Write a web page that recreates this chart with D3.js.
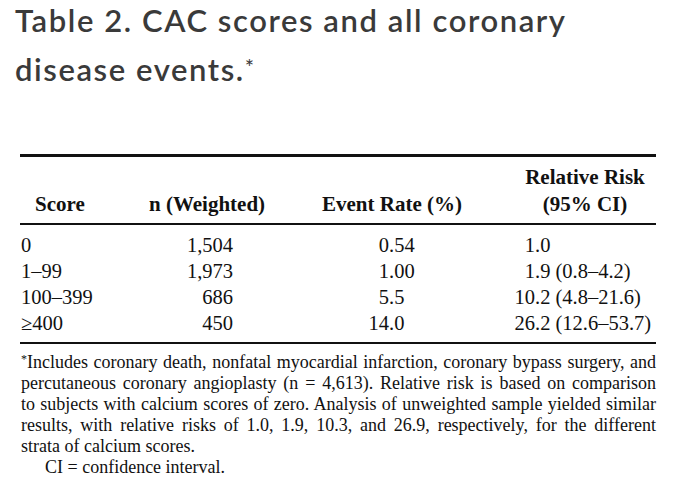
<!DOCTYPE html>
<html>
<head>
<meta charset="utf-8">
<script src="https://cdn.jsdelivr.net/npm/d3@7/dist/d3.min.js"></script>
<style>
  html, body { margin: 0; padding: 0; background: #fff; }
  svg { display: block; }
</style>
</head>
<body>
<svg id="chart" width="674" height="499"></svg>
<script>
// ---- data ----
const titleLines = ["Table 2. CAC scores and all coronary", "disease events.*"];
const headers = ["Score", "n (Weighted)", "Event Rate (%)", "Relative Risk", "(95% CI)"];
const scores = ["0", "1–99", "100–399", "≥400"];
const nWeighted = [1504, 1973, 686, 450];
const eventRate = ["0.54", "1.00", "5.5", "14.0"];
const relRisk = ["1.0", "1.9", "10.2", "26.2"];
const ciLow = [null, "0.8", "4.8", "12.6"];
const ciHigh = [null, "4.2", "21.6", "53.7"];
const footLines = [
  "Includes coronary death, nonfatal myocardial infarction, coronary bypass surgery, and",
  "percutaneous coronary angioplasty (n = 4,613). Relative risk is based on comparison",
  "to subjects with calcium scores of zero. Analysis of unweighted sample yielded similar",
  "results, with relative risks of 1.0, 1.9, 10.3, and 26.9, respectively, for the different",
  "strata of calcium scores.",
  "CI = confidence interval."
];

// ---- layout ----
const svg = d3.select("#chart");
const serif = "'Liberation Serif', 'DejaVu Serif', serif";
const left = 20, right = 656;

// title
const title = svg.append("g");
const titleBase = [32, 81];
titleLines.forEach((t, i) => {
  const tx = title.append("text")
    .attr("x", 15).attr("y", titleBase[i])
    .attr("font-family", "Lato, 'Open Sans', sans-serif")
    .attr("font-weight", 600)
    .attr("font-size", 31)
    .attr("fill", "#3a3a3a");
  if (i === 1) {
    tx.append("tspan").text(t.replace("*", ""));
    tx.append("tspan").attr("font-weight", 400).attr("font-size", 22).attr("dy", -6).text("*");
  } else {
    tx.text(t);
  }
});
// spread first title line to the reference width using letter spacing
{
  const t0 = title.select("text").node();
  const w = t0.getComputedTextLength();
  const n = titleLines[0].length - 1;
  const ls = Math.max(0, (550 - w) / n);
  title.selectAll("text").attr("letter-spacing", ls);
}

// rules
svg.append("rect").attr("x", left).attr("y", 154).attr("width", right - left).attr("height", 3).attr("fill", "#111");
svg.append("rect").attr("x", left).attr("y", 223).attr("width", right - left).attr("height", 2).attr("fill", "#111");
svg.append("rect").attr("x", left).attr("y", 342).attr("width", right - left).attr("height", 2).attr("fill", "#111");

// header
const hdr = svg.append("g").attr("font-family", serif).attr("font-weight", 700).attr("font-size", 21).attr("fill", "#111");
hdr.append("text").attr("x", 35).attr("y", 211).text(headers[0]);
hdr.append("text").attr("x", 149).attr("y", 211).text(headers[1]);
hdr.append("text").attr("x", 322).attr("y", 211).text(headers[2]);
hdr.append("text").attr("x", 585).attr("y", 184).attr("text-anchor", "middle").text(headers[3]);
hdr.append("text").attr("x", 585).attr("y", 211).attr("text-anchor", "middle").text(headers[4]);

// body rows
const y = d3.scalePoint().domain(scores).range([252, 330]);
const fmt = d3.format(",");
const body = svg.append("g").attr("font-family", serif).attr("font-size", 20.5).attr("fill", "#111");
const rows = body.selectAll("g.row").data(scores.map((s, i) => ({
  s, n: nWeighted[i], er: eventRate[i], rr: relRisk[i], lo: ciLow[i], hi: ciHigh[i]
}))).join("g").attr("class", "row").attr("transform", d => `translate(0,${y(d.s)})`);

rows.append("text").attr("x", 21).text(d => d.s);
rows.append("text").attr("x", 233).attr("text-anchor", "end").text(d => fmt(d.n));
const decER = 389, decRR = 535;
rows.append("text").attr("x", decER).attr("text-anchor", "end").text(d => d.er.split(".")[0]);
rows.append("text").attr("x", decER).text(d => "." + d.er.split(".")[1]);
rows.append("text").attr("x", decRR).attr("text-anchor", "end").text(d => d.rr.split(".")[0]);
rows.append("text").attr("x", decRR)
  .text(d => "." + d.rr.split(".")[1] + (d.lo ? ` (${d.lo}–${d.hi})` : ""));

// footnote
const foot = svg.append("g").attr("font-family", serif).attr("font-size", 18).attr("fill", "#111");
const footBase = [368, 389, 410, 431, 452, 473];
footLines.forEach((t, i) => {
  const isCI = i === 5;
  const tx = foot.append("text").attr("x", isCI ? 45 : 21).attr("y", footBase[i]);
  if (i === 0) {
    tx.append("tspan").attr("font-size", 12).attr("dy", -5).text("*");
    tx.append("tspan").attr("dy", 5).text(t);
  } else {
    tx.text(t);
  }
  if (i < 4) {
    const w = tx.node().getComputedTextLength();
    const spaces = (t.match(/ /g) || []).length;
    tx.attr("word-spacing", (right - 21 - w) / spaces);
  }
});
</script>
</body>
</html>
